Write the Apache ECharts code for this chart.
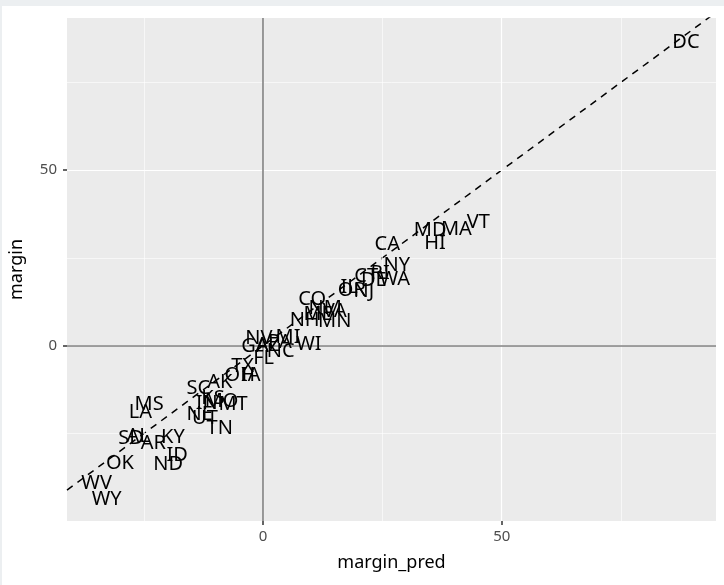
<!DOCTYPE html>
<html>
<head>
<meta charset="utf-8">
<script src="https://cdn.jsdelivr.net/npm/echarts@6/dist/echarts.min.js"></script>
<style>
html,body{margin:0;padding:0;background:#ffffff;}
#chart{width:724px;height:585px;}
</style>
</head>
<body>
<div id="chart"></div>
<script>
// ---- data ----
const states = ["DC","VT","MA","MD","HI","CA","NY","WA","RI","CT","DE","IL","OR","NJ","CO","NM","VA","ME","NH","MN","MI","NV","PA","WI","AZ","GA","NC","FL","TX","OH","IA","AK","SC","KS","MO","IN","MT","MS","LA","NE","UT","TN","KY","AL","SD","AR","ID","ND","OK","WV","WY"];
const marginPred = [88.6,45.1,40.5,35.0,36.0,26.0,28.0,27.6,24.5,21.6,23.2,18.0,18.6,21.1,10.3,13.0,15.0,11.5,8.7,15.0,5.2,-0.9,3.5,9.6,1.0,-1.7,3.7,0.1,-4.3,-4.9,-2.6,-9.1,-13.6,-10.5,-8.7,-11.8,-6.3,-23.9,-25.7,-13.3,-12.2,-9.1,-18.9,-26.2,-27.7,-23.0,-18.0,-19.9,-30.0,-34.9,-32.8];
const margin = [86.8,35.4,33.5,33.2,29.5,29.2,23.1,19.2,20.8,20.0,19.0,17.0,16.1,15.9,13.5,10.8,10.1,9.1,7.4,7.1,2.8,2.4,1.2,0.6,0.3,0.2,-1.3,-3.4,-5.6,-8.0,-8.2,-10.1,-11.7,-14.6,-15.4,-16.1,-16.4,-16.5,-18.6,-19.1,-20.5,-23.2,-25.9,-25.5,-26.2,-27.6,-30.8,-33.4,-33.1,-38.9,-43.4];
const xTicks = [0, 50];
const yTicks = [0, 50];
const xMinorGrid = [-25, 25, 75];
const yMinorGrid = [-25, 25, 75];
const xMajorGrid = [0, 50];
const yMajorGrid = [0, 50];
const xRange = [-41.1, 94.9];
const yRange = [-49.9, 93.3];
const abline = {intercept: 0, slope: 1};

const chart = echarts.init(document.getElementById('chart'), null, {renderer: 'canvas'});
const font = "'Noto Sans', 'Open Sans', sans-serif";

function vlines(vals){ return vals.map(v => ({xAxis: v})); }
function hlines(vals){ return vals.map(v => ({yAxis: v})); }
function mlSeries(data, color, width, z){
  return {
    type: 'line', data: [], z: z, silent: true, animation: false,
    markLine: {
      silent: true, animation: false, symbol: ['none','none'],
      label: {show: false},
      lineStyle: {color: color, width: width, type: 'solid'},
      emphasis: {disabled: true},
      data: data
    }
  };
}

const ablineData = xRange.map(x => [x, abline.intercept + abline.slope * x]);

const option = {
  backgroundColor: '#ffffff',
  animation: false,
  graphic: [
    {type: 'rect', shape: {x: 0, y: 0, width: 724, height: 6}, style: {fill: '#eceff1'}, silent: true, z: 100},
    {type: 'rect', shape: {x: 0, y: 0, width: 2, height: 585}, style: {fill: '#eceff1'}, silent: true, z: 100}
  ],
  grid: {left: 67, right: 8, top: 18, bottom: 64, show: true, backgroundColor: '#ebebeb', borderWidth: 0},
  xAxis: {
    type: 'value', min: xRange[0], max: xRange[1],
    name: 'margin_pred', nameLocation: 'middle', nameGap: 33,
    nameTextStyle: {fontFamily: font, fontSize: 18, color: '#000000'},
    axisLine: {show: false, onZero: false},
    splitLine: {show: false},
    axisTick: {show: true, customValues: xTicks, length: 4, lineStyle: {color: '#333333', width: 1.5}},
    axisLabel: {show: true, customValues: xTicks, fontFamily: font, fontSize: 15, color: '#4d4d4d', margin: 8}
  },
  yAxis: {
    type: 'value', min: yRange[0], max: yRange[1],
    name: 'margin', nameLocation: 'middle', nameGap: 41, nameRotate: 90,
    nameTextStyle: {fontFamily: font, fontSize: 18, color: '#000000'},
    axisLine: {show: false, onZero: false},
    splitLine: {show: false},
    axisTick: {show: true, customValues: yTicks, length: 4, lineStyle: {color: '#333333', width: 1.5}},
    axisLabel: {show: true, customValues: yTicks, fontFamily: font, fontSize: 15, color: '#4d4d4d', margin: 10}
  },
  series: [
    mlSeries(vlines(xMinorGrid).concat(hlines(yMinorGrid)), '#ffffff', 0.6, 1),
    mlSeries(vlines(xMajorGrid).concat(hlines(yMajorGrid)), '#ffffff', 1.2, 2),
    mlSeries([{xAxis: 0}, {yAxis: 0}], '#808080', 1.6, 3),
    {
      type: 'line', data: ablineData, z: 4, silent: true, animation: false,
      symbol: 'none', clip: true,
      lineStyle: {color: '#000000', width: 1.5, type: [7, 6]}
    },
    {
      type: 'scatter', z: 5, silent: true, animation: false,
      symbolSize: 0, itemStyle: {color: 'rgba(0,0,0,0)'},
      data: states.map((s, i) => ({name: s, value: [marginPred[i], margin[i]]})),
      label: {show: true, position: 'inside', offset: [0, 1], formatter: '{b}', fontFamily: font, fontSize: 20, color: '#000000', opacity: 1}
    }
  ]
};
chart.setOption(option);
</script>
</body>
</html>
